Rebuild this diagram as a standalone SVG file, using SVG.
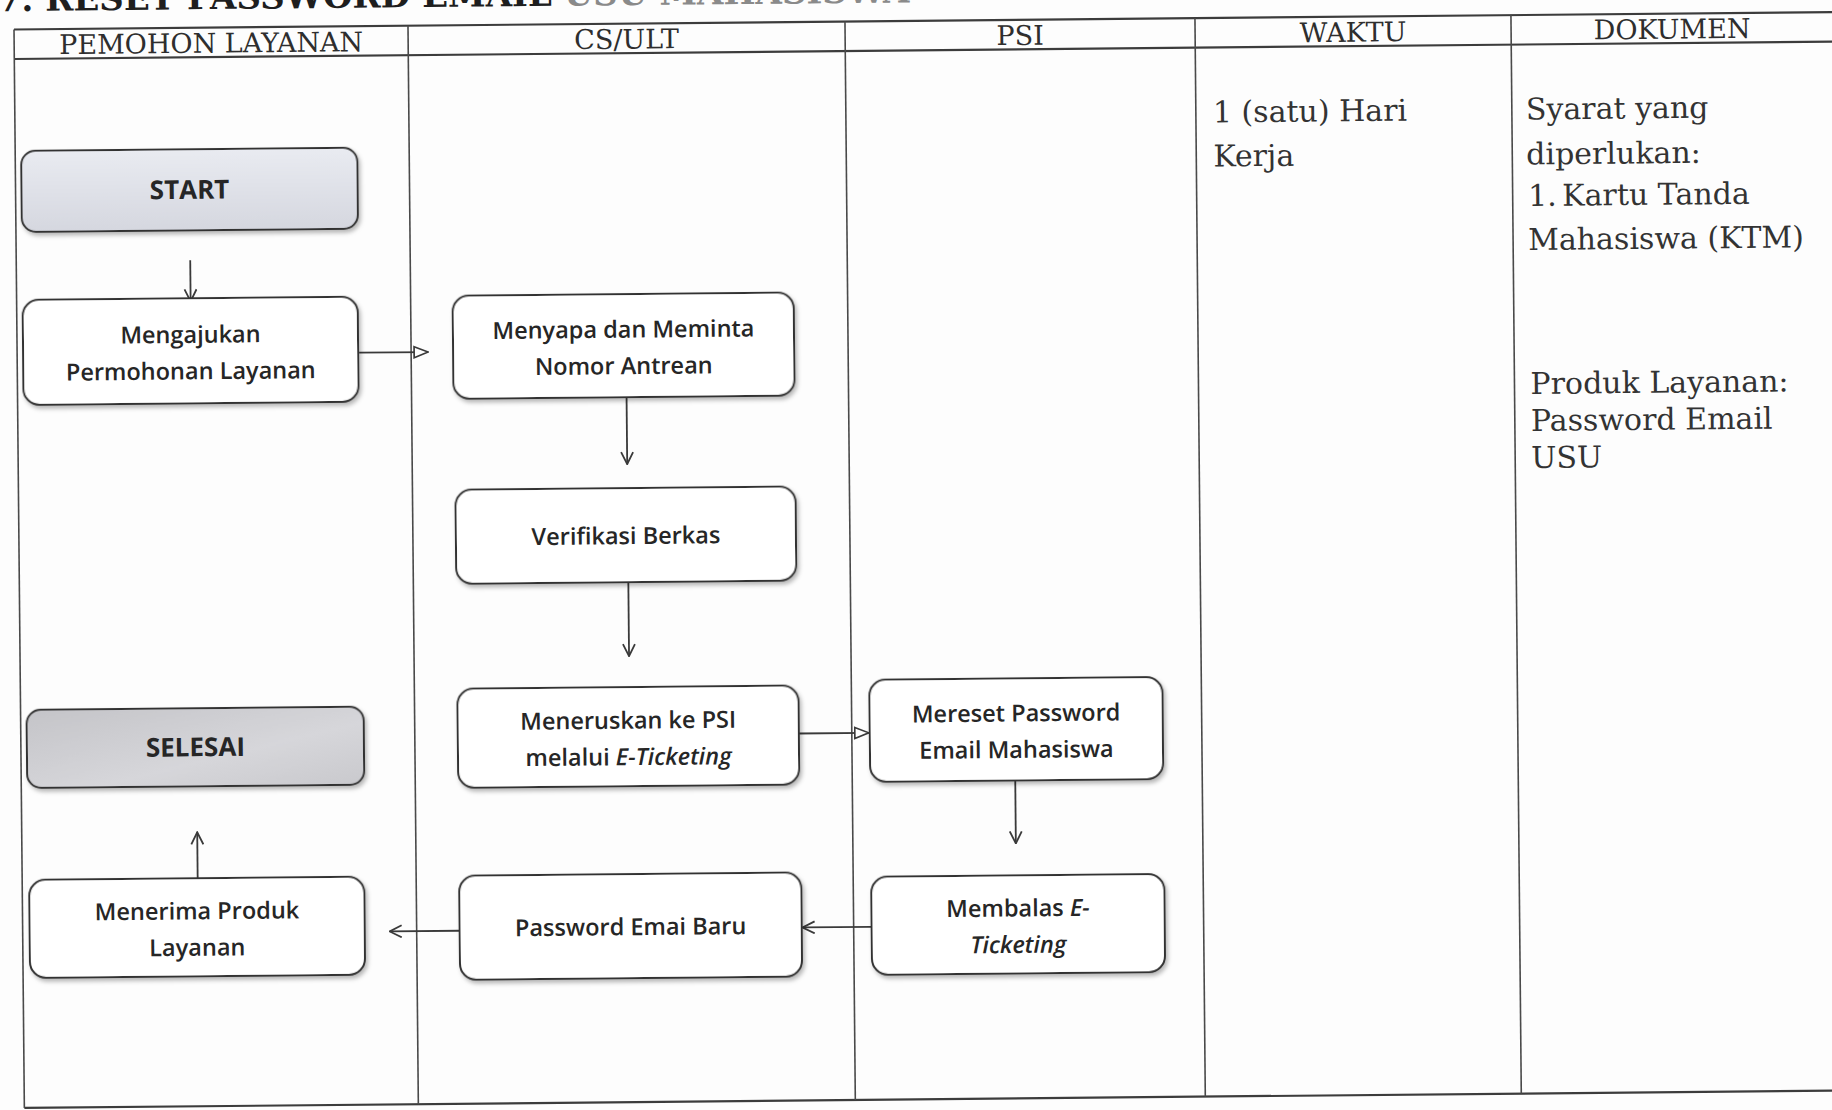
<svg xmlns="http://www.w3.org/2000/svg" width="1832" height="1110" viewBox="0 0 1832 1110">
  <style>
    .grid { stroke: #4a4a4a; stroke-width: 1.6; fill: none; }
    .gridBold { stroke: #3c3c3c; stroke-width: 2.2; fill: none; }
    .hdr { font-family: "DejaVu Serif", "Liberation Serif", serif; font-size: 27px; fill: #2e2e2e; text-anchor: middle; }
    .body { font-family: "DejaVu Serif", "Liberation Serif", serif; font-size: 30px; fill: #333; }
    .box { fill: #ffffff; stroke: #333; stroke-width: 2; filter: url(#shadow); }
    .lbl { font-family: "Open Sans", "Noto Sans", "Liberation Sans", sans-serif; font-size: 23.5px; font-weight: 600; fill: #262626; text-anchor: middle; }
    .term { font-family: "Open Sans", "Noto Sans", "Liberation Sans", sans-serif; font-size: 26px; font-weight: bold; fill: #262626; text-anchor: middle; }
    .it { font-style: italic; }
    .edge { stroke: #3a3a3a; stroke-width: 1.8; fill: none; }
    .title { font-family: "DejaVu Serif", "Liberation Serif", serif; font-size: 34px; font-weight: bold; fill: #1e1e1e; }
  </style>
  <defs>
    <filter id="shadow" x="-10%" y="-10%" width="125%" height="135%">
      <feDropShadow dx="2" dy="3" stdDeviation="2.2" flood-color="#000" flood-opacity="0.28"/>
    </filter>
    <linearGradient id="gStart" x1="0" y1="0" x2="0" y2="1">
      <stop offset="0" stop-color="#e9ebf1"/>
      <stop offset="1" stop-color="#d5d7df"/>
    </linearGradient>
    <linearGradient id="gEnd" x1="0" y1="0" x2="1" y2="1">
      <stop offset="0" stop-color="#c4c4c8"/>
      <stop offset="0.6" stop-color="#d6d6da"/>
      <stop offset="1" stop-color="#c9c9cd"/>
    </linearGradient>
    <marker id="vee" viewBox="0 0 14 14" refX="13" refY="7" markerWidth="14" markerHeight="14" markerUnits="userSpaceOnUse" orient="auto">
      <path d="M1,1 L13,7 L1,13" fill="none" stroke="#3a3a3a" stroke-width="1.8"/>
    </marker>
    <marker id="tri" viewBox="0 0 16 14" refX="15" refY="7" markerWidth="16" markerHeight="14" markerUnits="userSpaceOnUse" orient="auto">
      <path d="M1,1.5 L15,7 L1,12.5 Z" fill="#ffffff" stroke="#3a3a3a" stroke-width="1.7"/>
    </marker>
  </defs>

  <rect x="0" y="0" width="1832" height="1110" fill="#fdfdfd"/>

  <!-- whole page sits slightly tilted -->
  <g transform="rotate(-0.55 14 29)">
    <!-- section title, clipped by the top edge -->
    <text class="title" x="-2" y="11">7. RESET PASSWORD EMAIL <tspan fill="#8a8a8a">USU MAHASISWA</tspan></text>

    <!-- swimlane table -->
    <g id="table">
      <line class="gridBold" x1="14" y1="29.5" x2="1850" y2="29.5"/>
      <line class="gridBold" x1="14" y1="59" x2="1850" y2="59"/>
      <line class="gridBold" x1="14" y1="1108" x2="1850" y2="1108"/>
      <line class="grid" x1="14" y1="29.5" x2="14" y2="1108"/>
      <line class="grid" x1="408" y1="29.5" x2="408" y2="1108"/>
      <line class="grid" x1="845" y1="29.5" x2="845" y2="1108"/>
      <line class="grid" x1="1195" y1="29.5" x2="1195" y2="1108"/>
      <line class="grid" x1="1511" y1="29.5" x2="1511" y2="1108"/>
      <line class="grid" x1="1838" y1="29.5" x2="1838" y2="1108"/>
      <text class="hdr" x="211" y="54.5">PEMOHON LAYANAN</text>
      <text class="hdr" x="626.5" y="54.5">CS/ULT</text>
      <text class="hdr" x="1020" y="54.5">PSI</text>
      <text class="hdr" x="1353" y="54.5">WAKTU</text>
      <text class="hdr" x="1672" y="54.5">DOKUMEN</text>
    </g>

    <!-- time column -->
    <g id="waktu">
      <text class="body" x="1212" y="134">1 (satu) Hari</text>
      <text class="body" x="1212" y="178">Kerja</text>
    </g>

    <!-- documents column -->
    <g id="dokumen">
      <text class="body" x="1525" y="134">Syarat yang</text>
      <text class="body" x="1525" y="179">diperlukan:</text>
      <text class="body" x="1526.5" y="220.5">1.</text>
      <text class="body" x="1560.5" y="220.5">Kartu Tanda</text>
      <text class="body" x="1526" y="264.5">Mahasiswa (KTM)</text>
      <text class="body" x="1527" y="408.5">Produk Layanan:</text>
      <text class="body" x="1527" y="445.5">Password Email</text>
      <text class="body" x="1527" y="482.5">USU</text>
    </g>

    <!-- connectors -->
    <g id="connectors">
      <line class="edge" x1="188" y1="262" x2="188" y2="303" marker-end="url(#vee)"/>
      <line class="edge" x1="356" y1="356" x2="425" y2="356" marker-end="url(#tri)"/>
      <line class="edge" x1="623" y1="403" x2="623" y2="470" marker-end="url(#vee)"/>
      <line class="edge" x1="623" y1="588" x2="623" y2="662" marker-end="url(#vee)"/>
      <line class="edge" x1="792" y1="741" x2="862" y2="741" marker-end="url(#tri)"/>
      <line class="edge" x1="1008" y1="790" x2="1008" y2="853" marker-end="url(#vee)"/>
      <line class="edge" x1="863" y1="935" x2="794" y2="935" marker-end="url(#vee)"/>
      <line class="edge" x1="451" y1="935" x2="381" y2="935" marker-end="url(#vee)"/>
      <line class="edge" x1="189.5" y1="880" x2="189.5" y2="834" marker-end="url(#vee)"/>
    </g>

    <!-- nodes -->
    <g id="n-start">
      <rect class="box" x="20" y="151" width="336" height="81" rx="14" style="fill:url(#gStart)"/>
      <text class="term" x="188" y="200.5">START</text>
    </g>
    <g id="n-ajukan">
      <rect class="box" x="20" y="300" width="335" height="105" rx="16"/>
      <text class="lbl" x="187.5" y="344.5">Mengajukan</text>
      <text class="lbl" x="187.5" y="381">Permohonan Layanan</text>
    </g>
    <g id="n-selesai">
      <rect class="box" x="20" y="710" width="337" height="78" rx="14" style="fill:url(#gEnd)"/>
      <text class="term" x="188.5" y="758">SELESAI</text>
    </g>
    <g id="n-terima">
      <rect class="box" x="21" y="880" width="335" height="98" rx="16"/>
      <text class="lbl" x="188.5" y="921">Menerima Produk</text>
      <text class="lbl" x="188.5" y="957.5">Layanan</text>
    </g>
    <g id="n-sapa">
      <rect class="box" x="450" y="300" width="341" height="103" rx="16"/>
      <text class="lbl" x="620.5" y="343.5">Menyapa dan Meminta</text>
      <text class="lbl" x="620.5" y="380">Nomor Antrean</text>
    </g>
    <g id="n-verifikasi">
      <rect class="box" x="451" y="494" width="340" height="94" rx="16"/>
      <text class="lbl" x="621" y="550">Verifikasi Berkas</text>
    </g>
    <g id="n-teruskan">
      <rect class="box" x="451" y="693" width="341" height="99" rx="16"/>
      <text class="lbl" x="621.5" y="734.5">Meneruskan ke PSI</text>
      <text class="lbl" x="621.5" y="771">melalui <tspan class="it">E-Ticketing</tspan></text>
    </g>
    <g id="n-baru">
      <rect class="box" x="451" y="880" width="342" height="104" rx="16"/>
      <text class="lbl" x="622" y="941">Password Emai Baru</text>
    </g>
    <g id="n-reset">
      <rect class="box" x="863" y="688" width="293" height="102" rx="16"/>
      <text class="lbl" x="1009.5" y="731">Mereset Password</text>
      <text class="lbl" x="1009.5" y="767.5">Email Mahasiswa</text>
    </g>
    <g id="n-balas">
      <rect class="box" x="863" y="885" width="293" height="98" rx="16"/>
      <text class="lbl" x="1009.5" y="926">Membalas <tspan class="it">E-</tspan></text>
      <text class="lbl it" x="1009.5" y="962.5">Ticketing</text>
    </g>
  </g>
</svg>
